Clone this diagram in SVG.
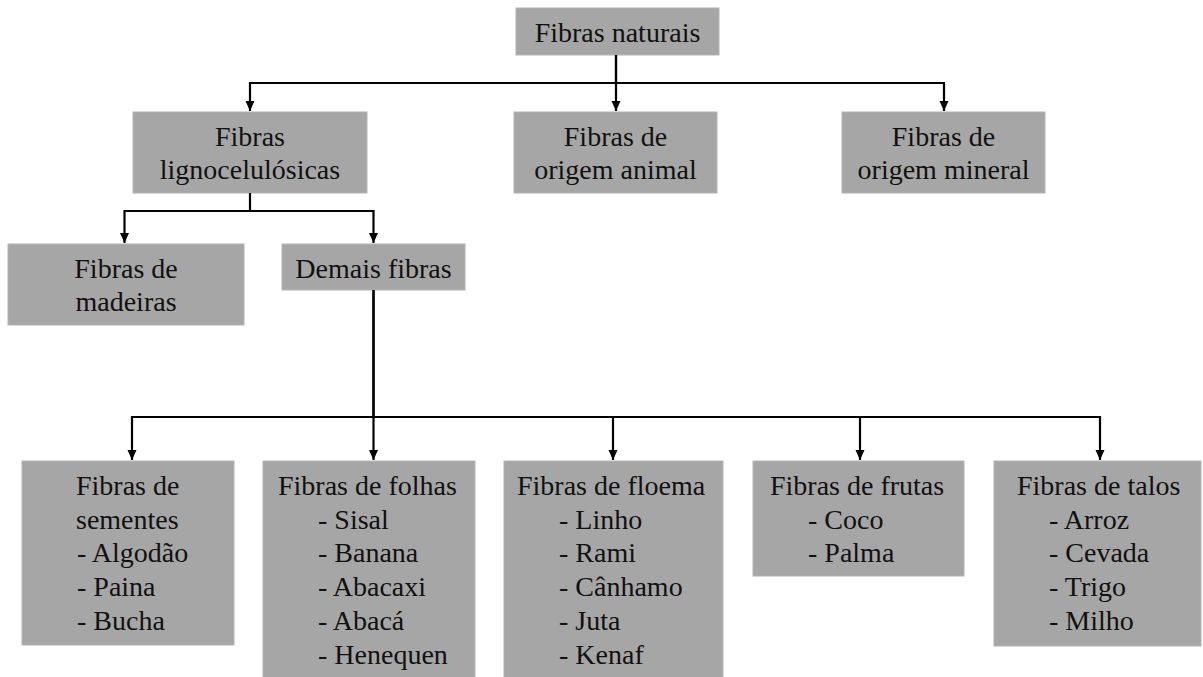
<svg xmlns="http://www.w3.org/2000/svg" width="1203" height="677" viewBox="0 0 1203 677">
<defs>
<marker id="ah" markerUnits="userSpaceOnUse" markerWidth="11" markerHeight="10" refX="10" refY="4.5" orient="auto">
<path d="M0,0 L10,4.5 L0,9 z" fill="#000"/>
</marker>
<style>
.box{fill:#a6a6a6;stroke:#b4b4b4;stroke-width:1}
.t{font-family:"Liberation Serif","Times New Roman",serif;font-size:28px;fill:#111}
.c{text-anchor:middle}
.conn path{fill:none;stroke:#000;stroke-width:2.2}
.conn .a{marker-end:url(#ah)}
</style>
</defs>
<rect width="1203" height="677" fill="#fff"/>
<g id="n-naturais"><rect class="box" x="516" y="8" width="203" height="47"/><text class="t c" x="617.5" y="42">Fibras naturais</text></g>
<g id="n-ligno"><rect class="box" x="133" y="112" width="234" height="81"/><text class="t c" x="250" y="146">Fibras</text><text class="t c" x="250" y="179">lignocelulósicas</text></g>
<g id="n-animal"><rect class="box" x="514" y="112" width="203" height="81"/><text class="t c" x="615.5" y="146">Fibras de</text><text class="t c" x="615.5" y="179">origem animal</text></g>
<g id="n-mineral"><rect class="box" x="842" y="112" width="203" height="81"/><text class="t c" x="943.5" y="146">Fibras de</text><text class="t c" x="943.5" y="179">origem mineral</text></g>
<g id="n-madeiras"><rect class="box" x="8" y="244" width="236" height="81"/><text class="t c" x="126" y="278">Fibras de</text><text class="t c" x="126" y="311">madeiras</text></g>
<g id="n-demais"><rect class="box" x="282" y="244" width="183" height="46"/><text class="t c" x="373.5" y="278">Demais fibras</text></g>
<g id="n-sementes"><rect class="box" x="22" y="461" width="212" height="184"/>
<text class="t" x="76" y="495">Fibras de</text><text class="t" x="76" y="528.5">sementes</text><text class="t" x="77" y="562">- Algodão</text><text class="t" x="77" y="596">- Paina</text><text class="t" x="77" y="630">- Bucha</text></g>
<g id="n-folhas"><rect class="box" x="263" y="461" width="212" height="220"/>
<text class="t" x="278" y="495">Fibras de folhas</text><text class="t" x="318" y="528.5">- Sisal</text><text class="t" x="318" y="562">- Banana</text><text class="t" x="318" y="596">- Abacaxi</text><text class="t" x="318" y="630">- Abacá</text><text class="t" x="318" y="664">- Henequen</text></g>
<g id="n-floema"><rect class="box" x="504" y="461" width="219" height="220"/>
<text class="t" x="517" y="495">Fibras de floema</text><text class="t" x="559" y="528.5">- Linho</text><text class="t" x="559" y="562">- Rami</text><text class="t" x="559" y="596">- Cânhamo</text><text class="t" x="559" y="630">- Juta</text><text class="t" x="559" y="664">- Kenaf</text></g>
<g id="n-frutas"><rect class="box" x="753" y="461" width="211" height="115"/>
<text class="t" x="770" y="495">Fibras de frutas</text><text class="t" x="808" y="528.5">- Coco</text><text class="t" x="808" y="562">- Palma</text></g>
<g id="n-talos"><rect class="box" x="994" y="461" width="207" height="185"/>
<text class="t" x="1017" y="495">Fibras de talos</text><text class="t" x="1049" y="528.5">- Arroz</text><text class="t" x="1049" y="562">- Cevada</text><text class="t" x="1049" y="596">- Trigo</text><text class="t" x="1049" y="630">- Milho</text></g>
<g id="connectors" class="conn">
<path class="a" d="M616,55 V83 H250 V111"/>
<path class="a" d="M616,55 V111"/>
<path class="a" d="M616,83 H944 V111"/>
<path class="a" d="M250,193 V211 H124.5 V243"/>
<path class="a" d="M250,211 H373.5 V243"/>
<path class="a" d="M373.5,290 V417 H132 V460"/>
<path class="a" d="M373.5,290 V460"/>
<path class="a" d="M373.5,417 H613 V460"/>
<path class="a" d="M613,417 H860 V460"/>
<path class="a" d="M860,417 H1100 V460"/>
</g>
</svg>
